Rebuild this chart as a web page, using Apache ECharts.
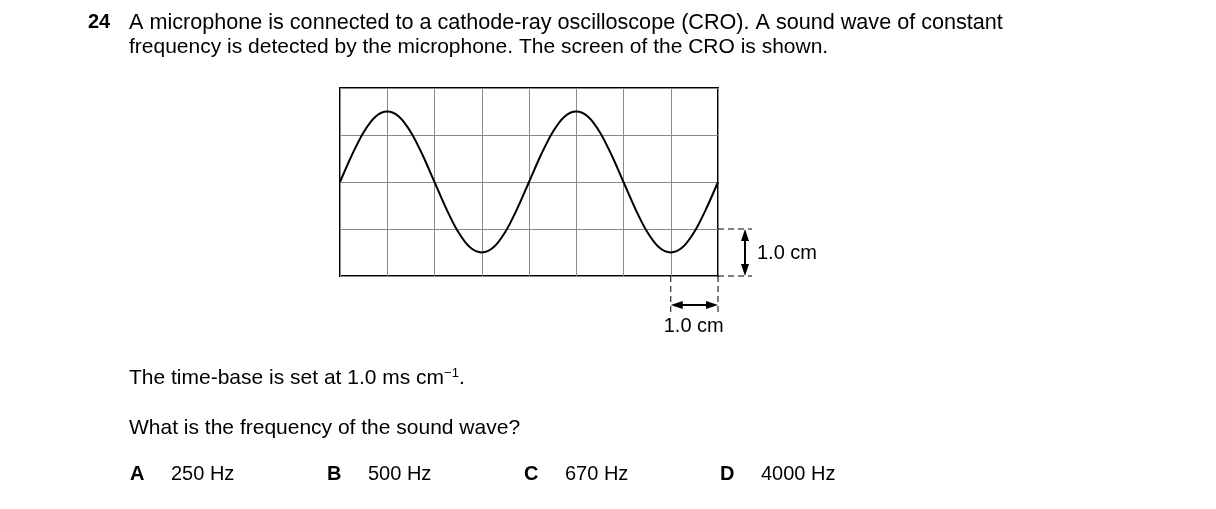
<!DOCTYPE html>
<html><head><meta charset="utf-8">
<script src="https://cdn.jsdelivr.net/npm/echarts@6/dist/echarts.min.js"></script>
<style>html,body{margin:0;background:#fff}#c{width:1216px;height:509px}</style>
</head><body><div id="c"></div>
<script>
// wave samples (cm)
const xs = [0,0.25,0.5,0.75,1,1.25,1.5,1.75,2,2.25,2.5,2.75,3,3.25,3.5,3.75,4,4.25,4.5,4.75,5,5.25,5.5,5.75,6,6.25,6.5,6.75,7,7.25,7.5,7.75,8];
const ys = [0,0.57,1.06,1.39,1.5,1.39,1.06,0.57,0,-0.57,-1.06,-1.39,-1.5,-1.39,-1.06,-0.57,0,0.57,1.06,1.39,1.5,1.39,1.06,0.57,0,-0.57,-1.06,-1.39,-1.5,-1.39,-1.06,-0.57,0];
const options = [['A','250 Hz',130],['B','500 Hz',327],['C','670 Hz',524],['D','4000 Hz',720]];
const F = 'Liberation Sans, Arial, sans-serif';
const chart = echarts.init(document.getElementById('c'));
const txt = (x,y,t,sz) => ({type:'text',left:x,top:y,style:{text:t,font:(sz||21)+'px '+F,fill:'#000'}});
const graphic = [
  {type:'text',left:88,top:12,style:{text:'24',font:'bold 20px '+F,fill:'#000'}},
  txt(129,12,'A microphone is connected to a cathode-ray oscilloscope (CRO). A sound wave of constant',21.6),
  txt(129,37,'frequency is detected by the microphone. The screen of the CRO is shown.'),
  {type:'text',left:129,top:367,style:{rich:{a:{font:'21px '+F},s:{font:'13px '+F,verticalAlign:'top',padding:[0,0,10,0]}},text:'{a|The time-base is set at 1.0 ms cm}{s|−1}{a|.}',fill:'#000'}},
  txt(129,418,'What is the frequency of the sound wave?'),
];
options.forEach(o=>{
  graphic.push({type:'text',left:o[2],top:464,style:{text:o[0],font:'bold 20px '+F,fill:'#000'}});
  graphic.push(txt(o[2]+41,464,o[1],20));
});
chart.setOption({
  animation:false,
  grid:{left:340,top:88,width:378,height:188,show:true,borderColor:'#000',borderWidth:2},
  xAxis:{type:'value',min:0,max:8,interval:1,axisLine:{show:false},axisTick:{show:false},axisLabel:{show:false},splitLine:{lineStyle:{color:'#8a8a8a',width:1}}},
  yAxis:{type:'value',min:-2,max:2,interval:1,axisLine:{show:false},axisTick:{show:false},axisLabel:{show:false},splitLine:{lineStyle:{color:'#8a8a8a',width:1}}},
  series:[{type:'line',data:xs.map((x,i)=>[x,ys[i]]),smooth:0.3,symbol:'none',lineStyle:{color:'#000',width:2}}]
});
const P = (x,y)=>chart.convertToPixel({gridIndex:0},[x,y]);
const dl = (a,b)=>({type:'line',shape:{x1:a[0],y1:a[1],x2:b[0],y2:b[1]},style:{stroke:'#000',lineWidth:1,lineDash:[6,4]}});
const sl = (a,b)=>({type:'line',shape:{x1:a[0],y1:a[1],x2:b[0],y2:b[1]},style:{stroke:'#000',lineWidth:2}});
const tri = (pts)=>({type:'polygon',shape:{points:pts},style:{fill:'#000'}});
const r1=P(8,-1), r2=P(8,-2), b1=P(7,-2);
const ax=r1[0]+27, ay=r2[1]+29;
graphic.push(
  dl(r1,[r1[0]+34,r1[1]]), dl(r2,[r2[0]+34,r2[1]]),
  dl(b1,[b1[0],b1[1]+36]), dl(r2,[r2[0],r2[1]+36]),
  sl([ax,r1[1]+10],[ax,r2[1]-10]),
  tri([[ax,r1[1]],[ax-4,r1[1]+12],[ax+4,r1[1]+12]]),
  tri([[ax,r2[1]],[ax-4,r2[1]-12],[ax+4,r2[1]-12]]),
  sl([b1[0]+10,ay],[r2[0]-10,ay]),
  tri([[b1[0],ay],[b1[0]+12,ay-4],[b1[0]+12,ay+4]]),
  tri([[r2[0],ay],[r2[0]-12,ay-4],[r2[0]-12,ay+4]]),
  txt(ax+12,r1[1]+14,'1.0 cm',20), txt(b1[0]-7,ay+11,'1.0 cm',20)
);
chart.setOption({graphic});
</script></body></html>
